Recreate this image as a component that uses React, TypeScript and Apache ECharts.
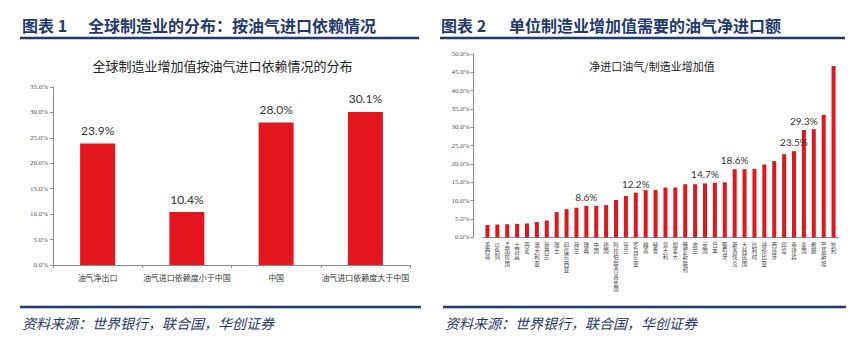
import React, { useEffect, useRef } from 'react';
import * as echarts from 'echarts';

const leftCategories = ['油气净出口', '油气进口依赖度小于中国', '中国', '油气进口依赖度大于中国'];
const leftValues = [23.9, 10.4, 28.0, 30.1];

const rightCategories = [
  '墨西哥', '以色列', '孟加拉国', '土耳其', '丹麦', '澳大利亚', '新西兰', '瑞士', '印度尼西亚', '荷兰',
  '瑞典', '中国', '德国', '阿拉伯联合酋长国', '芬兰', '罗马尼亚', '越南', '秘鲁', '意大利', '加拿大',
  '俄罗斯联邦', '波兰', '英国', '日本', '葡萄牙', '斯洛伐克', '大韩民国', '比利时', '哥伦比亚', '西班牙',
  '印度', '菲律宾', '泰国', '希腊', '巴基斯坦', '智利',
];
const rightValues = [
  3.4, 3.5, 3.6, 3.7, 3.8, 4.2, 4.6, 6.9, 7.7, 8.1,
  8.6, 8.6, 8.8, 10.2, 11.3, 12.2, 12.9, 12.9, 13.6, 13.6,
  14.5, 14.5, 14.7, 14.9, 15.0, 18.6, 18.6, 18.7, 19.9, 20.8,
  22.7, 23.5, 29.3, 29.5, 33.4, 46.7,
];
const rightLabeledCategories = ['瑞典', '罗马尼亚', '英国', '斯洛伐克', '菲律宾', '泰国'];

const leftTitle = '全球制造业增加值按油气进口依赖情况的分布';
const rightTitle = '净进口油气/制造业增加值';
const header1No = '图表 1';
const header1 = '全球制造业的分布：按油气进口依赖情况';
const header2No = '图表 2';
const header2 = '单位制造业增加值需要的油气净进口额';
const sourceText = '资料来源：世界银行，联合国，华创证券';

const RED = '#E3161E';
const NAVY = '#1F3A6E';
const CJK = '"Noto Sans CJK SC", "Noto Sans", sans-serif';
const SERIF = '"Liberation Serif", "DejaVu Serif", serif';
const NUM = 'Lato, "Open Sans", sans-serif';

export default function App() {
  const ref = useRef<HTMLDivElement>(null);
  useEffect(() => {
    if (!ref.current) return;
    const chart = echarts.init(ref.current, null, { renderer: 'svg' });
    const pct = (v: number) => v.toFixed(1) + '%';
    chart.setOption({
      animation: false,
      backgroundColor: '#ffffff',
      grid: [
        { left: 53, top: 87, width: 357, bottom: 88, containLabel: false },
        { left: 482.5, top: 54, width: 356, bottom: 115.6, containLabel: false },
      ],
      xAxis: [
        {
          type: 'category', gridIndex: 0, data: leftCategories,
          axisLine: { lineStyle: { color: '#8c8c8c', width: 1 } },
          axisTick: { show: true, length: 3, lineStyle: { color: '#8c8c8c' } },
          axisLabel: { fontSize: 8, color: '#333', fontFamily: CJK, margin: 8, interval: 0 },
        },
        {
          type: 'category', gridIndex: 1, data: rightCategories,
          axisLine: { lineStyle: { color: '#8c8c8c', width: 1 } },
          axisTick: { show: false },
          axisLabel: {
            fontSize: 5.5, lineHeight: 6.4, color: '#444', fontFamily: CJK, margin: 4, interval: 0,
            formatter: (v: string) => v.split('').join('\n'),
          },
        },
      ],
      yAxis: [
        {
          type: 'value', gridIndex: 0, min: 0, max: 35, interval: 5,
          axisLine: { show: true, lineStyle: { color: '#8c8c8c' } },
          axisTick: { show: true, length: 3, lineStyle: { color: '#8c8c8c' } },
          splitLine: { show: false },
          axisLabel: { fontSize: 7, color: '#555', fontFamily: SERIF, margin: 5, formatter: pct },
        },
        {
          type: 'value', gridIndex: 1, min: 0, max: 50, interval: 5, offset: 9,
          axisLine: { show: true, lineStyle: { color: '#8c8c8c' } },
          axisTick: { show: true, length: 3, lineStyle: { color: '#8c8c8c' } },
          splitLine: { show: false },
          axisLabel: { fontSize: 7, color: '#555', fontFamily: SERIF, margin: 4, formatter: pct },
        },
      ],
      series: [
        {
          type: 'bar', xAxisIndex: 0, yAxisIndex: 0, data: leftValues, barWidth: 35,
          itemStyle: { color: RED },
          label: {
            show: true, position: 'top', distance: 7, fontSize: 12, color: '#333', fontFamily: NUM,
            formatter: (p: any) => pct(p.value),
          },
        },
        {
          type: 'bar', xAxisIndex: 1, yAxisIndex: 1, barWidth: 4,
          itemStyle: { color: RED },
          data: rightValues.map((v, i) => ({
            value: v,
            label: { show: rightLabeledCategories.includes(rightCategories[i]) },
          })),
          label: {
            position: 'top', distance: 4, fontSize: 10, color: '#333', fontFamily: NUM,
            formatter: (p: any) => pct(p.value),
          },
        },
      ],
      graphic: [
        { type: 'text', x: 22, y: 17, style: { text: header1No, fill: NAVY, font: `bold 16px ${CJK}` } },
        { type: 'text', x: 88, y: 17, style: { text: header1, fill: NAVY, font: `bold 16px ${CJK}` } },
        { type: 'text', x: 441, y: 17, style: { text: header2No, fill: NAVY, font: `bold 16px ${CJK}` } },
        { type: 'text', x: 509, y: 17, style: { text: header2, fill: NAVY, font: `bold 16px ${CJK}` } },
        { type: 'line', shape: { x1: 20, y1: 38, x2: 419, y2: 38 }, style: { stroke: NAVY, lineWidth: 2.5 } },
        { type: 'line', shape: { x1: 440, y1: 38, x2: 845, y2: 38 }, style: { stroke: NAVY, lineWidth: 2.5 } },
        { type: 'text', x: 222.5, y: 65, style: { text: leftTitle, fill: '#222', font: `13px ${CJK}`, textAlign: 'center', textVerticalAlign: 'middle' } },
        { type: 'text', x: 652, y: 66, style: { text: rightTitle, fill: '#222', font: `11px ${CJK}`, textAlign: 'center', textVerticalAlign: 'middle' } },
        { type: 'line', shape: { x1: 20, y1: 307, x2: 421, y2: 307 }, style: { stroke: NAVY, lineWidth: 2.5 } },
        { type: 'line', shape: { x1: 443, y1: 307, x2: 846, y2: 307 }, style: { stroke: NAVY, lineWidth: 2.5 } },
        { type: 'text', x: 22, y: 323, style: { text: sourceText, fill: NAVY, font: `italic 14px ${CJK}`, textVerticalAlign: 'middle' } },
        { type: 'text', x: 445, y: 323, style: { text: sourceText, fill: NAVY, font: `italic 14px ${CJK}`, textVerticalAlign: 'middle' } },
      ],
    });
    return () => chart.dispose();
  }, []);
  return <div ref={ref} style={{ position: 'fixed', left: 0, top: 0, width: 864, height: 353 }} />;
}
